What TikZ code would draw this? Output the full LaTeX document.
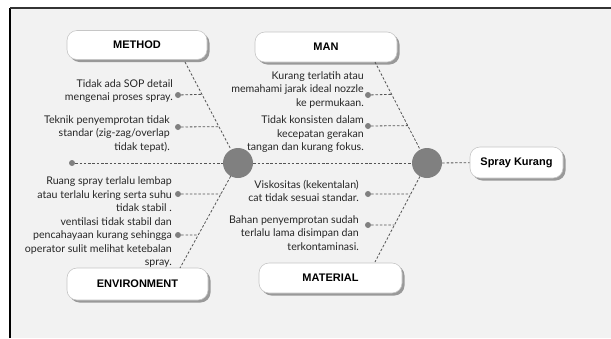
\documentclass[tikz,border=0pt]{standalone}
\usepackage{fontspec}
\setmainfont{Lato}
\newfontfamily\labelfont{Liberation Sans}
\usetikzlibrary{calc,shadows}
\definecolor{panel}{HTML}{F2F2F2}
\definecolor{dotgray}{HTML}{808080}
\definecolor{dashgray}{HTML}{555555}
\tikzset{
  catbox/.style={draw=gray!45, line width=0.6pt, fill=white, rounded corners=10pt,
    font=\labelfont\bfseries\fontsize{11}{12}\selectfont,
    drop shadow={shadow xshift=2.5pt, shadow yshift=-2.5pt, fill=gray!80, opacity=1}},
  bigdot/.style={circle, fill=dotgray, minimum size=30pt, inner sep=0pt},
  smalldot/.style={circle, fill=dotgray, minimum size=6pt, inner sep=0pt},
  dline/.style={draw=dashgray, line width=0.8pt, dash pattern=on 2.5pt off 1.8pt},
  cause/.style={anchor=east, align=right, inner sep=0pt, text=black!85,
    font=\fontsize{10.6}{13.5}\selectfont}
}
\begin{document}
\begin{tikzpicture}[x=1pt,y=-1pt]
\useasboundingbox (0,0) rectangle (611,338);
\fill[white] (0,0) rectangle (611,338);
\fill[panel] (10,8) rectangle (611,338);
\draw[black, line width=1.8pt] (10,338) -- (10,8);
\draw[black!80, line width=1.2pt] (10,8) -- (611,8);

% category boxes
\node[catbox, minimum width=140pt, minimum height=29pt] (method) at (137,45) {METHOD};
\node[catbox, minimum width=142pt, minimum height=30pt] (man) at (326,47) {MAN};
\node[catbox, minimum width=141pt, minimum height=32pt] (env) at (137.5,284) {ENVIRONMENT};
\node[catbox, minimum width=143pt, minimum height=30pt] (mat) at (330.5,278) {MATERIAL};
\node[catbox, minimum width=93pt, minimum height=31pt] (spray) at (516.5,162.5) {Spray Kurang};

% big circles
\node[bigdot] (cL) at (238,163) {};
\node[bigdot] (cR) at (427,163) {};
\node[smalldot] (tail) at (72,163) {};

% branch end points
\coordinate (m0) at (185,62);
\coordinate (n0) at (375,62);
\coordinate (e0) at (180,268);
\coordinate (t0) at (375,262);

% spine
\draw[dline] (tail) -- (cL);
\draw[dline] (cL) -- (cR);
\draw[dline] (cR) -- (spray);

% branches
\draw[dline] (m0) -- (cL);
\draw[dline] (n0) -- (cR);
\draw[dline] (cL) -- (e0);
\draw[dline] (cR) -- (t0);

% junctions
\coordinate (jm1) at ($(m0)!0.32!(cL)$);
\coordinate (jm2) at ($(m0)!0.64!(cL)$);
\coordinate (jn1) at ($(n0)!0.32!(cR)$);
\coordinate (jn2) at ($(n0)!0.63!(cR)$);
\coordinate (je1) at ($(cL)!0.295!(e0)$);
\coordinate (je2) at ($(cL)!0.686!(e0)$);
\coordinate (jt1) at ($(cR)!0.313!(t0)$);
\coordinate (jt2) at ($(cR)!0.626!(t0)$);

% small dots
\node[smalldot] (dm1) at (178,95) {};
\node[smalldot] (dm2) at (178,127) {};
\node[smalldot] (dn1) at (368,95) {};
\node[smalldot] (dn2) at (368,126) {};
\node[smalldot] (de1) at (178,194) {};
\node[smalldot] (de2) at (178,235) {};
\node[smalldot] (dt1) at (368,194) {};
\node[smalldot] (dt2) at (368,225) {};

\draw[dline] (dm1) -- (jm1);
\draw[dline] (dm2) -- (jm2);
\draw[dline] (dn1) -- (jn1);
\draw[dline] (dn2) -- (jn2);
\draw[dline] (de1) -- (je1);
\draw[dline] (de2) -- (je2);
\draw[dline] (dt1) -- (jt1);
\draw[dline] (dt2) -- (jt2);

% cause texts
\node[cause] (tm1) at (173,91) {Tidak ada SOP detail\\mengenai proses spray.};
\node[cause] (tm2) at (170,134) {Teknik penyemprotan tidak\\standar (zig-zag/overlap\\tidak tepat).};
\node[cause] (tn1) at (364,90) {Kurang terlatih atau\\memahami jarak ideal nozzle\\ke permukaan.};
\node[cause] (tn2) at (364,134.5) {Tidak konsisten dalam\\kecepatan gerakan\\tangan dan kurang fokus.};
\node[cause] (te1) at (172,194.5) {Ruang spray terlalu lembap\\atau terlalu kering serta suhu\\tidak stabil .};
\node[cause] (te2) at (172,242.5) {ventilasi tidak stabil dan\\pencahayaan kurang sehingga\\operator sulit melihat ketebalan\\spray.};
\node[cause] (tt1) at (359,191) {Viskositas (kekentalan)\\cat tidak sesuai standar.};
\node[cause] (tt2) at (359,233) {Bahan penyemprotan sudah\\terlalu lama disimpan dan\\terkontaminasi.};
\end{tikzpicture}
\end{document}
